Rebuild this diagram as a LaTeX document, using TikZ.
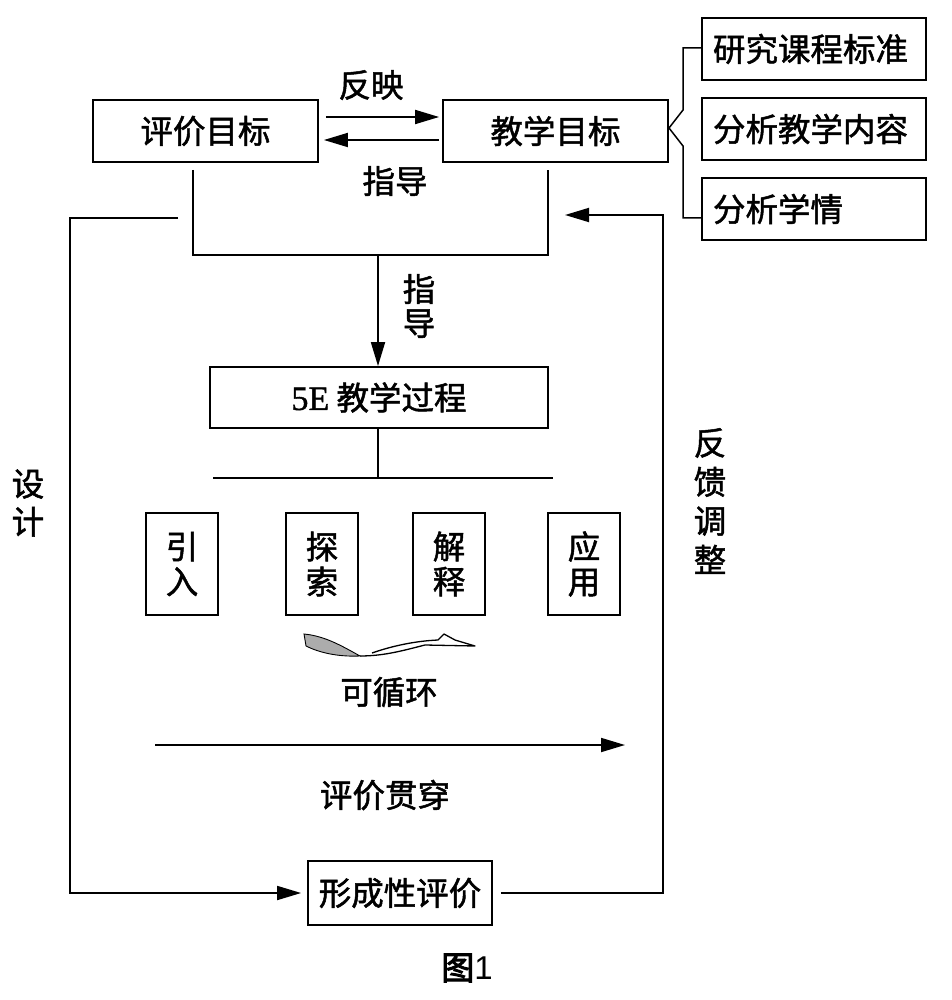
\documentclass[tikz,border=0pt]{standalone}
\usepackage{fontspec}
\newfontfamily\cjk{Noto Sans CJK SC}[FakeBold=1.5]
\newfontfamily\cjkb{Noto Sans CJK SC}[FakeBold=3]
\newfontfamily\latn{Liberation Serif}[FakeBold=1.2]
\newfontfamily\capfont{Liberation Sans}
\usetikzlibrary{arrows.meta}
\begin{document}
\begin{tikzpicture}[x=1pt,y=-1pt,
  font=\cjk\fontsize{32.5}{37}\selectfont,
  line width=1.8pt,
  box/.style={draw, line width=1.8pt, inner sep=0pt, align=center},
  lbox/.style={draw, line width=1.8pt, inner sep=0pt, text width=202pt, align=left},
  arr/.style={-{Triangle[length=24pt,width=14pt]}},
  lbl/.style={inner sep=0pt}]
\useasboundingbox (0,0) rectangle (951,1000);
% top boxes
\node[box, minimum width=225pt, minimum height=62pt] (pj) at (205.5,131) {评价目标};
\node[box, minimum width=225pt, minimum height=62pt] (jx) at (555.5,131) {教学目标};
\node[lbox, minimum width=224pt, minimum height=62pt] (r1) at (814,49) {研究课程标准};
\node[lbox, minimum width=224pt, minimum height=62pt] (r2) at (814,129) {分析教学内容};
\node[lbox, minimum width=224pt, minimum height=62pt] (r3) at (814,209) {分析学情};
% brace
\coordinate (b1) at (683,48);
\coordinate (b2) at (683,110);
\coordinate (bt) at (669,128);
\coordinate (b3) at (683,146);
\coordinate (b4) at (683,218);
\draw[line width=1.5pt] (r1.west |- b1) -- (b1) -- (b2) -- (bt) -- (b3) -- (b4) -- (r3.west |- b4);
% reflect / guide
\draw[arr] ([xshift=7pt,yshift=14pt]pj.east) -- ([xshift=-3pt,yshift=14pt]jx.west);
\draw[arr] ([xshift=-3pt,yshift=-9pt]jx.west) -- ([xshift=5pt,yshift=-9pt]pj.east);
\node[lbl] (tfy) at (371,85) {反映};
\node[lbl] (tzd) at (395,181) {指导};
% bracket below
\coordinate (a1) at (193,170);
\coordinate (a2) at (193,255);
\coordinate (c1) at (548,170);
\coordinate (c2) at (548,255);
\coordinate (m) at (378,255);
\draw (a1) -- (a2) -- (c2) -- (c1);
% 5E box
\node[box, minimum width=338pt, minimum height=61pt] (fe) at (379,397.5) {{\latn\fontsize{34}{37}\selectfont 5E} 教学过程};
\draw[arr] (m) -- (fe.north -| m);
\node[lbl, align=center] (tzd2) at (419,306) {指\\[-3pt]导};
% distribution line
\coordinate (d0) at (378,478);
\coordinate (dl) at (213,478);
\coordinate (dr) at (553,478);
\draw (fe.south -| d0) -- (d0);
\draw (dl) -- (dr);
% phase boxes
\node[box, minimum width=72pt, minimum height=102pt] (p1) at (182,564) {引\\[-2pt]入};
\node[box, minimum width=72pt, minimum height=102pt] (p2) at (322,564) {探\\[-2pt]索};
\node[box, minimum width=72pt, minimum height=102pt] (p3) at (449,564) {解\\[-2pt]释};
\node[box, minimum width=72pt, minimum height=102pt] (p4) at (584,564) {应\\[-2pt]用};
% cycle swoosh
\fill[gray!65, draw=black, line width=0.9pt] (304,634) .. controls (325,636) and (342,646) .. (360,656)
  .. controls (336,657) and (318,652) .. (306,646) -- cycle;
\draw[line width=1.3pt, line join=round] (360,656) .. controls (385,656) and (405,650) .. (425,645) -- (475,646) -- (455,640) -- (444,634) -- (438,640)
  .. controls (415,641) and (392,646) .. (372,653);
\node[lbl] (tkx) at (389,692) {可循环};
% through arrow
\coordinate (e1) at (155,745);
\coordinate (e2) at (625,745);
\draw[arr] (e1) -- (e2);
\node[lbl] (tpg) at (385,795) {评价贯穿};
% formative evaluation
\node[box, minimum width=184pt, minimum height=64pt] (xc) at (400,893) {形成性评价};
\coordinate (s1) at (178,218);
\coordinate (s2) at (70,218);
\draw[arr, shorten >=6pt] (s1) -- (s2) |- (xc.west);
\coordinate (f1) at (663,893);
\coordinate (f2) at (663,215);
\coordinate (f3) at (565,215);
\draw[arr] ([xshift=8pt]xc.east) -- (f1) -- (f2) -- (f3);
\node[lbl, align=center] (tsj) at (28,503) {设\\[1pt]计};
\node[lbl, align=center] (tfk) at (710,501) {反\\[2pt]馈\\[2pt]调\\[2pt]整};
% caption
\node[lbl, font=\fontsize{33}{36}\selectfont] (cap) at (467,968) {{\cjkb 图}{\capfont 1}};
\end{tikzpicture}
\end{document}
